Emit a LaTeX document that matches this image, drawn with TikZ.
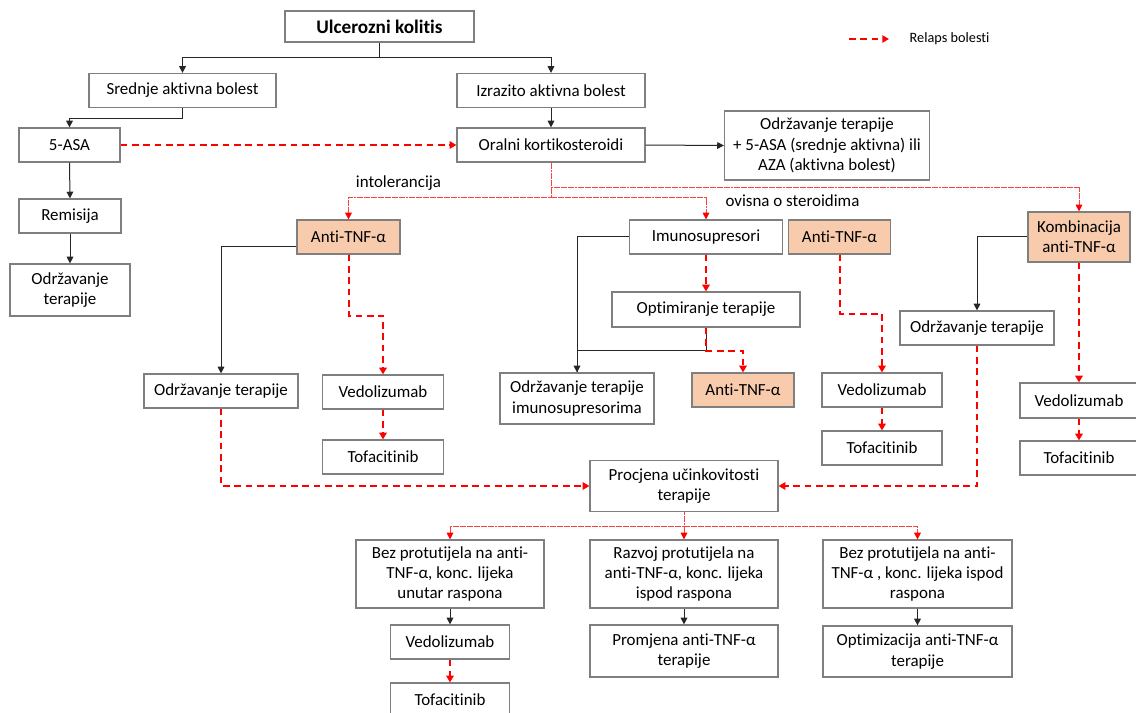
\documentclass[tikz,border=0pt]{standalone}
\usepackage{fontspec}
\setmainfont{Carlito}[Ligatures=NoCommon]
\usetikzlibrary{arrows.meta}
\definecolor{boxline}{RGB}{127,127,127}
\definecolor{tnf}{RGB}{248,203,173}
\tikzset{
	box/.style={draw=boxline, line width=0.9pt, fill=white, inner sep=0pt, align=center, font=\fontsize{12.7}{15.2}\selectfont},
	hl/.style={box, fill=tnf},
	sz/.style 2 args={minimum width=#1*0.75pt, minimum height=#2*0.75pt},
	note/.style={font=\fontsize{12.7}{15.2}\selectfont},
	link/.style={draw=black!85, line width=0.75pt, -{Triangle[width=5pt,length=5pt]}},
	relaps/.style={draw=red, line width=1.5pt, dash pattern=on 5pt off 3.5pt, -{Triangle[width=5.5pt,length=5pt]}},
	branch/.style={draw=red!75, line width=0.75pt, dash pattern=on 2.2pt off 0.4pt, -{Triangle[width=5pt,length=5pt,color=red]}},
}

\begin{document}
\begin{tikzpicture}[x=0.75pt, y=-0.75pt]
	%%%%% START %%%%%
	\path[use as bounding box, fill=white] (0,0) rectangle (1136,713);
	
	% legend
	\coordinate (lg1) at (849,39);
	\coordinate (lg2) at (889,39);
	\draw[relaps] (lg1) -- (lg2);
	\node[anchor=west, font=\fontsize{10.7}{13}\selectfont] (lgtxt) at (905,39) {Relaps bolesti};
	
	% top
	\node[box, sz={189}{31}, font=\bfseries\fontsize{14.4}{17}\selectfont] (ulc) at (379.5,26.5) {Ulcerozni kolitis};
	\node[box, sz={187}{34}] (sred) at (182.5,90.5) {Srednje aktivna bolest};
	\node[box, sz={188}{34}] (izr) at (551,90.5) {Izrazito aktivna bolest};
	\node[box, sz={101}{34}] (asa) at (69.5,145) {5-ASA};
	\node[box, sz={188}{34}] (oral) at (551,145) {Oralni kortikosteroidi};
	\node[box, sz={205}{69}] (odrz0) at (827,145.5) {Održavanje terapije\\+ 5-ASA (srednje aktivna) ili\\AZA (aktivna bolest)};
	\node[box, sz={102}{34}] (rem) at (70,216) {Remisija};
	\node[box, sz={120}{52}] (odrzL) at (70,290) {Održavanje\\terapije};
	
	\node[note] (intol) at (398.5,183) {intolerancija};
	\node[note] (ovis) at (792.5,201) {ovisna o steroidima};
	
	% second level
	\node[hl, sz={103}{34}] (anti1) at (348.5,237) {Anti-TNF-α};
	\node[box, sz={153}{34}] (imuno) at (706,237) {Imunosupresori};
	\node[hl, sz={102}{34}] (anti2) at (839.5,237) {Anti-TNF-α};
	\node[hl, sz={102}{50}] (komb) at (1079,237) {Kombinacija\\anti-TNF-α};
	\node[box, sz={188}{35}] (optim) at (706,309.5) {Optimiranje terapije};
	\node[box, sz={154}{34}] (odrzK) at (977,328) {Održavanje terapije};
	
	\node[box, sz={154}{34}] (odrzA) at (221,391) {Održavanje terapije};
	\node[box, sz={121}{34}] (ved1) at (383,392) {Vedolizumab};
	\node[box, sz={121}{34}] (tof1) at (383,457) {Tofacitinib};
	\node[box, sz={154}{51}] (odrzI) at (577,398.5) {Održavanje terapije\\imunosupresorima};
	\node[hl, sz={102}{34}] (anti3) at (743,390) {Anti-TNF-α};
	\node[box, sz={120}{34}] (ved2) at (882,390) {Vedolizumab};
	\node[box, sz={120}{34}] (tof2) at (882,448) {Tofacitinib};
	\node[box, sz={118}{35}] (ved3) at (1079,400.5) {Vedolizumab};
	\node[box, sz={118}{34}] (tof3) at (1079,458) {Tofacitinib};
	
	% bottom
	\node[box, sz={188}{51}] (proc) at (684,486) {Procjena učinkovitosti\\terapije};
	\node[box, sz={188}{68}] (bez1) at (450,574) {Bez protutijela na anti-\\TNF-α, konc. lijeka\\unutar raspona};
	\node[box, sz={188}{68}] (razv) at (684,574) {Razvoj protutijela na\\anti-TNF-α, konc. lijeka\\ispod raspona};
	\node[box, sz={189}{68}] (bez3) at (917.5,574) {Bez protutijela na anti-\\TNF-α , konc. lijeka ispod\\raspona};
	\node[box, sz={119}{34}] (ved4) at (450,642) {Vedolizumab};
	\node[box, sz={119}{34}] (tof4) at (450,700) {Tofacitinib};
	\node[box, sz={188}{52}] (prom) at (684,651) {Promjena anti-TNF-α\\terapije};
	\node[box, sz={189}{51}] (optz) at (917.5,651.5) {Optimizacija anti-TNF-α\\terapije};
	
	% connectors
	\draw[link] (ulc.south) -- ++(0,15) -| (sred.north);
	\draw[link] (ulc.south) -- ++(0,15) -| (izr.north);
	\draw[link] (sred.south) -- ++(0,10) -| (asa.north);
	\draw[link] (izr.south) -- (oral.north);
	\draw[relaps] (asa.east) -- (oral.west);
	\draw[link] (oral.east) -- (odrz0.west);
	\draw[link] (asa.south) -- (rem.north);
	\draw[link] (rem.south) -- (odrzL.north);
	
	\draw[branch] (oral.south) -- ++(0,25) coordinate (j1) -| (komb.north);
	\draw[branch] (j1) -- ++(0,10) coordinate (j2) -| (anti1.north);
	\draw[branch] (j2) -| (imuno.north);
	
	\draw[link] ([yshift=-7pt]anti1.west) -| (odrzA.north);
	\draw[relaps] (anti1.south) -- ++(0,61) -| (ved1.north);
	\draw[relaps] (ved1.south) -- (tof1.north);
	\draw[relaps] (odrzA.south) |- (proc.west);
	
	\draw[link] (imuno.west) -| (odrzI.north);
	\draw[relaps] (imuno.south) -- (optim.north);
	\draw[link, -] (optim.south) -- ++(0,23) -| (odrzI.north);
	\draw[relaps] (optim.south) -- ++(0,23) -| (anti3.north);
	\draw[relaps] (anti2.south) -- ++(0,59) -| (ved2.north);
	\draw[relaps] (ved2.south) -- (tof2.north);
	
	\draw[link] (komb.west) -| (odrzK.north);
	\draw[relaps] (komb.south) -- (ved3.north);
	\draw[relaps] (ved3.south) -- (tof3.north);
	\draw[relaps] (odrzK.south) |- (proc.east);
	
	\draw[branch] (proc.south) -- ++(0,14.5) coordinate (j3) -| (bez1.north);
	\draw[branch] (j3) -| (bez3.north);
	\draw[branch] (j3) -- (razv.north);
	\draw[link] (bez1.south) -- (ved4.north);
	\draw[relaps] (ved4.south) -- (tof4.north);
	\draw[link] (razv.south) -- (prom.north);
	\draw[link] (bez3.south) -- (optz.north);
	%%%%% END %%%%%
\end{tikzpicture}
\end{document}
